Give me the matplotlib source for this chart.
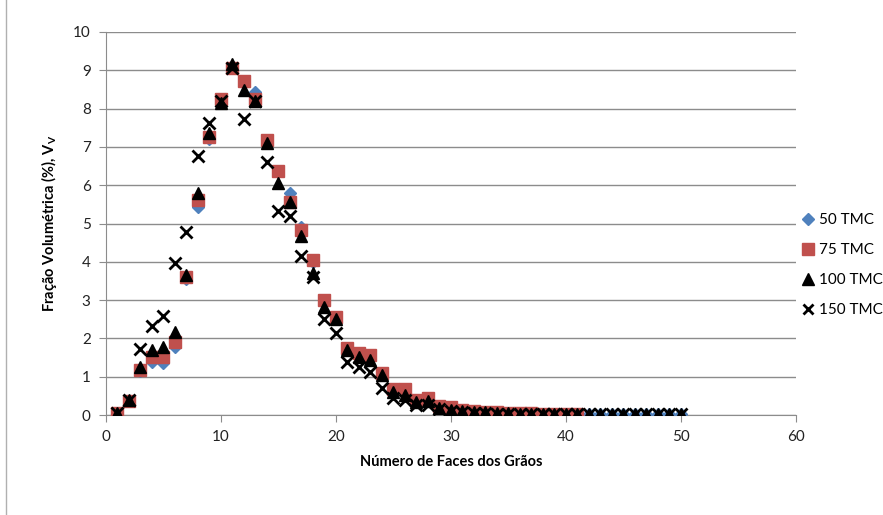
import matplotlib
matplotlib.use("Agg")
import matplotlib.pyplot as plt
from matplotlib.lines import Line2D

plt.rcParams["font.family"] = ["Lato", "DejaVu Sans"]
plt.rcParams["mathtext.fontset"] = "custom"
plt.rcParams["mathtext.rm"] = "Lato:bold"

# Volume fraction (%) per number of grain faces
faces_50 = list(range(1, 51))
vv_50 = [0.05, 0.38, 1.15, 1.39, 1.37, 1.78, 3.55, 5.44, 7.20, 8.20,
         9.05, 8.70, 8.44, 7.15, 6.35, 5.79, 4.90, 4.00, 2.95, 2.50,
         1.70, 1.60, 1.55, 1.05, 0.65, 0.60, 0.40, 0.40, 0.23, 0.20,
         0.12, 0.10, 0.08, 0.07, 0.06, 0.05, 0.05, 0.04, 0.04, 0.03,
         0.03, 0.03, 0.02, 0.02, 0.02, 0.02, 0.02, 0.02, 0.02, 0.02]

faces_75 = list(range(1, 42))
vv_75 = [0.05, 0.38, 1.17, 1.51, 1.52, 1.91, 3.61, 5.61, 7.25, 8.24,
         9.05, 8.73, 8.24, 7.18, 6.38, 5.57, 4.83, 4.04, 3.00, 2.55,
         1.74, 1.62, 1.57, 1.10, 0.67, 0.67, 0.39, 0.44, 0.23, 0.22,
         0.12, 0.10, 0.09, 0.07, 0.06, 0.05, 0.05, 0.04, 0.04, 0.03,
         0.03]

faces_100 = list(range(1, 51))
vv_100 = [0.05, 0.40, 1.26, 1.70, 1.78, 2.18, 3.65, 5.80, 7.35, 8.14,
          9.16, 8.49, 8.20, 7.09, 6.06, 5.55, 4.67, 3.72, 2.83, 2.52,
          1.70, 1.52, 1.45, 1.04, 0.61, 0.52, 0.35, 0.37, 0.18, 0.13,
          0.10, 0.08, 0.07, 0.05, 0.05, 0.04, 0.04, 0.03, 0.03, 0.02,
          0.02, 0.02, 0.02, 0.02, 0.02, 0.02, 0.02, 0.02, 0.02, 0.02]

faces_150 = list(range(1, 51))
vv_150 = [0.05, 0.40, 1.72, 2.32, 2.58, 3.98, 4.79, 6.76, 7.62, 8.20,
          9.05, 7.72, 8.20, 6.61, 5.32, 5.20, 4.16, 3.60, 2.52, 2.13,
          1.39, 1.26, 1.13, 0.70, 0.44, 0.39, 0.26, 0.26, 0.15, 0.10,
          0.08, 0.06, 0.05, 0.04, 0.04, 0.03, 0.03, 0.02, 0.02, 0.02,
          0.02, 0.02, 0.02, 0.02, 0.02, 0.02, 0.02, 0.02, 0.02, 0.02]

x_ticks = [0, 10, 20, 30, 40, 50, 60]
y_ticks = list(range(0, 11))

fig = plt.figure(figsize=(8.83, 5.15), dpi=100)
ax = fig.add_axes([0.120, 0.194, 0.781, 0.744])

ax.plot(faces_50, vv_50, linestyle="none", marker="D", markersize=6,
        color="#4F81BD", label="50 TMC", zorder=3)
ax.plot(faces_75, vv_75, linestyle="none", marker="s", markersize=8.5,
        color="#C0504D", label="75 TMC", zorder=4)
ax.plot(faces_100, vv_100, linestyle="none", marker="^", markersize=9,
        color="black", label="100 TMC", zorder=5)
ax.plot(faces_150, vv_150, linestyle="none", marker="x", markersize=8,
        markeredgewidth=2, color="black", label="150 TMC", zorder=6)

ax.set_xlim(0, 60)
ax.set_ylim(0, 10)
ax.set_xticks(x_ticks)
ax.set_yticks(y_ticks)
ax.yaxis.grid(True, color="#8c8c8c", linewidth=1)
ax.set_axisbelow(True)

for side in ["top", "right"]:
    ax.spines[side].set_visible(False)
for side in ["left", "bottom"]:
    ax.spines[side].set_color("#8c8c8c")
ax.tick_params(axis="both", direction="out", length=5, color="#8c8c8c",
               labelsize=11, labelcolor="#222222", pad=6)

ax.set_xlabel("Número de Faces dos Grãos", fontsize=10.5, fontweight="bold",
              labelpad=8)
ax.set_ylabel("Fração Volumétrica (%), $\\mathregular{V_V}$", fontsize=10.5,
              fontweight="bold", labelpad=10)

handles = [
    Line2D([], [], linestyle="none", marker="D", markersize=6, color="#4F81BD"),
    Line2D([], [], linestyle="none", marker="s", markersize=8.5, color="#C0504D"),
    Line2D([], [], linestyle="none", marker="^", markersize=8, color="black"),
    Line2D([], [], linestyle="none", marker="x", markersize=7,
           markeredgewidth=2, color="black"),
]
fig.legend(handles, ["50 TMC", "75 TMC", "100 TMC", "150 TMC"],
           loc="center left", bbox_to_anchor=(0.893, 0.485), frameon=False,
           fontsize=11, handlelength=0.8, handletextpad=0.3,
           labelspacing=1.05)

# light frame line on the left edge of the chart area
fig.add_artist(Line2D([0.007, 0.007], [0.0, 1.0], color="#b0b0b0",
                      linewidth=1, transform=fig.transFigure))

fig.savefig("out.png", dpi=100)
